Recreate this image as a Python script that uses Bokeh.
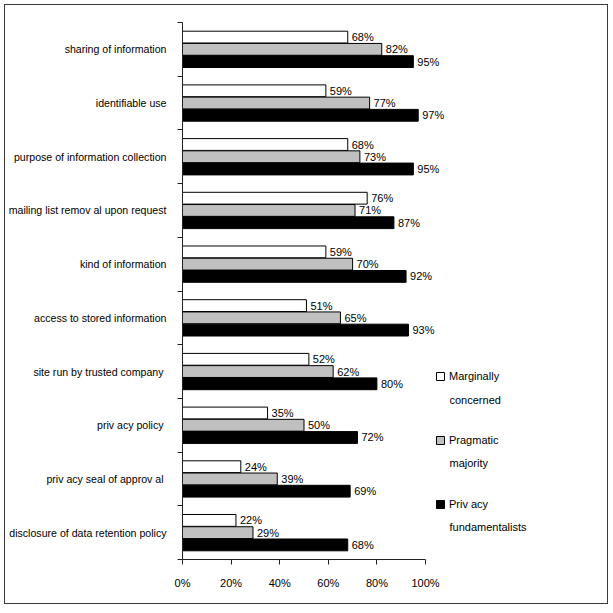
from bokeh.plotting import figure
from bokeh.models import ColumnDataSource, FixedTicker, PrintfTickFormatter, Legend, LegendItem, Label
from bokeh.transform import dodge
from bokeh.core.properties import value
from bokeh.embed import file_html
from bokeh.resources import INLINE

categories = [
    "sharing of information",
    "identifiable use",
    "purpose of information collection",
    "mailing list remov al upon request",
    "kind of information",
    "access to stored information",
    "site run by  trusted company",
    "priv acy  policy",
    "priv acy  seal of approv al",
    "disclosure of data retention policy",
]
marginally = [68, 59, 68, 76, 59, 51, 52, 35, 24, 22]
pragmatic = [82, 77, 73, 71, 70, 65, 62, 50, 39, 29]
fundamentalists = [95, 97, 95, 87, 92, 93, 80, 72, 69, 68]
series_first = ["Marginally", "Pragmatic", "Priv acy"]
series_second = ["concerned", "majority", "fundamentalists"]
x_ticks = [0, 20, 40, 60, 80, 100]

FONT = "Liberation Sans"
FS = "11px"
n = len(categories)
ypos = [n - 0.5 - i for i in range(n)]

src = ColumnDataSource(dict(
    y=ypos,
    m=marginally, p=pragmatic, f=fundamentalists,
    ml=[f"{v}%" for v in marginally],
    pl=[f"{v}%" for v in pragmatic],
    fl=[f"{v}%" for v in fundamentalists],
))

# 100% sits 243 px from the axis; the frame is widened to hold labels and legend
x_end = 421 / 2.43
p = figure(frame_width=421, frame_height=537, x_range=(0, x_end), y_range=(0, n),
           output_backend="svg", toolbar_location=None,
           min_border_left=173, min_border_top=17, min_border_bottom=44, min_border_right=4)
p.styles = {"border": "1.5px solid #3a3a3a", "margin": "4px"}

off = 0.228
bh = 0.22
r1 = p.hbar(y=dodge("y", off), right="m", left=0, height=bh, source=src,
            fill_color="white", line_color="black", line_width=1)
r2 = p.hbar(y=dodge("y", 0), right="p", left=0, height=bh, source=src,
            fill_color="#c0c0c0", line_color="black", line_width=1)
r3 = p.hbar(y=dodge("y", -off), right="f", left=0, height=bh, source=src,
            fill_color="black", line_color="black", line_width=1)

for col, lab, o in (("m", "ml", off), ("p", "pl", 0), ("f", "fl", -off)):
    p.text(x=col, y=dodge("y", o), text=lab, source=src, x_offset=4,
           text_baseline="middle", text_align="left",
           text_font=value(FONT), text_font_size=FS, text_color="black")

p.xgrid.visible = False
p.ygrid.visible = False
p.outline_line_color = None

xa = p.xaxis[0]
xa.ticker = FixedTicker(ticks=x_ticks)
xa.formatter = PrintfTickFormatter(format="%d%%")
xa.bounds = (0, 100)
xa.major_tick_out = 5
xa.major_tick_in = 0
xa.minor_tick_out = 0
xa.minor_tick_in = 0
xa.major_label_standoff = 12
xa.major_label_text_font = FONT
xa.major_label_text_font_size = FS
xa.major_label_text_color = "black"
xa.axis_line_color = "#222222"
xa.major_tick_line_color = "#222222"

ya = p.yaxis[0]
ya.ticker = FixedTicker(ticks=ypos, minor_ticks=list(range(n + 1)))
ya.major_label_overrides = {y: c for y, c in zip(ypos, categories)}
ya.major_tick_out = 0
ya.major_tick_in = 0
ya.minor_tick_out = 5
ya.minor_tick_in = 0
ya.major_label_standoff = 11
ya.major_label_text_font = FONT
ya.major_label_text_font_size = "10.6px"
ya.major_label_text_color = "black"
ya.axis_line_color = "#222222"
ya.minor_tick_line_color = "#222222"

legend = Legend(items=[
    LegendItem(label=series_first[0], renderers=[r1]),
    LegendItem(label=series_first[1], renderers=[r2]),
    LegendItem(label=series_first[2], renderers=[r3]),
], location=(253, 49))
legend.padding = 0
legend.margin = 0
legend.spacing = 52
legend.label_height = 12
legend.border_line_color = None
legend.background_fill_alpha = 0
legend.glyph_width = 10
legend.glyph_height = 10
legend.label_standoff = 4
legend.label_text_font = FONT
legend.label_text_font_size = FS
legend.label_text_color = "black"
legend.label_text_baseline = "middle"
p.add_layout(legend, "center")

for txt, yy in zip(series_second, (160, 97, 33)):
    p.add_layout(Label(x=267, y=yy, x_units="screen", y_units="screen", text=txt,
                       text_font=FONT, text_font_size=FS, text_color="black",
                       text_baseline="middle", text_align="left"))

open("out.html", "w").write(file_html(p, INLINE))
